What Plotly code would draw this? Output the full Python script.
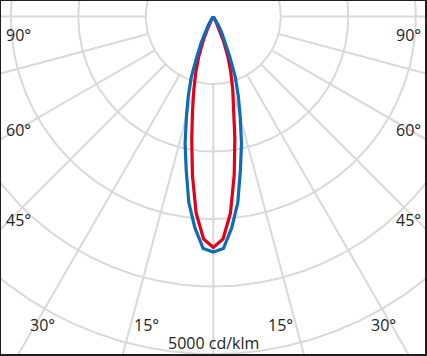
import numpy as np
import plotly.graph_objects as go

# Light distribution (cd/klm) vs. angle from nadir (degrees), symmetric curves
angles = [0, 2.5, 5, 7.5, 10, 12.5, 15, 17.5, 20, 22.5, 25, 27.5, 30, 32.5, 35, 40, 45, 50, 60, 70, 80, 90]
blue_cd = [3490, 3440, 3140, 2780, 2310, 1930, 1540, 1230, 950, 620, 420, 270, 150, 70, 30, 5, 0, 0, 0, 0, 0, 0]
red_cd = [3420, 3300, 2920, 2370, 1840, 1420, 1110, 860, 630, 400, 200, 80, 20, 5, 0, 0, 0, 0, 0, 0, 0, 0]

ring_values = [1000, 2000, 3000, 4000, 5000]
spoke_angles = [0, 15, 30, 45, 60, 75, 90]
label_angles = ["90°", "60°", "45°", "30°", "15°"]
scale_label = "5000 cd/klm"

BLUE = "#0a6db5"
RED = "#e2001a"
GRID = "#d9d9d9"
TEXT = "#231f20"


def polar_to_xy(theta_deg, r):
    t = np.radians(np.asarray(theta_deg, dtype=float))
    r = np.asarray(r, dtype=float)
    return r * np.sin(t), -r * np.cos(t)


def full_curve(ang, vals):
    a = np.array(ang, dtype=float)
    v = np.array(vals, dtype=float)
    th = np.concatenate([-a[::-1], a[1:]])
    rr = np.concatenate([v[::-1], v[1:]])
    return polar_to_xy(th, rr)


fig = go.Figure()

# rings
tt = np.linspace(0, 360, 721)
for rv in ring_values:
    x, y = polar_to_xy(tt, np.full_like(tt, rv))
    fig.add_trace(go.Scatter(x=x, y=y, mode="lines", line=dict(color=GRID, width=2),
                             hoverinfo="skip", showlegend=False))

# spokes
for a in spoke_angles:
    for sgn in ([1] if a == 0 else [-1, 1]):
        x, y = polar_to_xy([sgn * a, sgn * a], [ring_values[0], 9000])
        fig.add_trace(go.Scatter(x=x, y=y, mode="lines", line=dict(color=GRID, width=2),
                                 hoverinfo="skip", showlegend=False))

# curves
xr, yr = full_curve(angles, red_cd)
fig.add_trace(go.Scatter(x=xr, y=yr, mode="lines", line=dict(color=RED, width=3.2),
                         showlegend=False, name="C0-C180"))
xb, yb = full_curve(angles, blue_cd)
fig.add_trace(go.Scatter(x=xb, y=yb, mode="lines", line=dict(color=BLUE, width=3.2),
                         showlegend=False, name="C90-C270"))

# labels
label_pos = {
    "90°": (2893, -274),
    "60°": (2893, -1681),
    "45°": (2893, -3015),
    "30°": (2526, -4570),
    "15°": (989, -4570),
}
ann = []
for lab in label_angles:
    px, py = label_pos[lab]
    for sx in (-1, 1):
        ann.append(dict(x=sx * px, y=py, xref="x", yref="y", text=lab, showarrow=False,
                        font=dict(family="Open Sans", size=16, color=TEXT),
                        xanchor="center", yanchor="middle"))
ann.append(dict(x=0, y=-4837, xref="x", yref="y", text=scale_label, showarrow=False,
                font=dict(family="Open Sans", size=16, color=TEXT),
                xanchor="center", yanchor="middle"))

fig.update_layout(
    width=427, height=356,
    margin=dict(l=1, r=2, t=1, b=2),
    paper_bgcolor="#1e1e1e",
    plot_bgcolor="#ffffff",
    annotations=ann,
    xaxis=dict(range=[-3145, 3136], visible=False, fixedrange=True),
    yaxis=dict(range=[-5000, 230], visible=False, fixedrange=True),
    showlegend=False,
)

fig.write_html("out.html", config={"displayModeBar": False},
               post_script="document.body.style.margin='0';document.body.style.padding='0';document.body.style.overflow='hidden';")
